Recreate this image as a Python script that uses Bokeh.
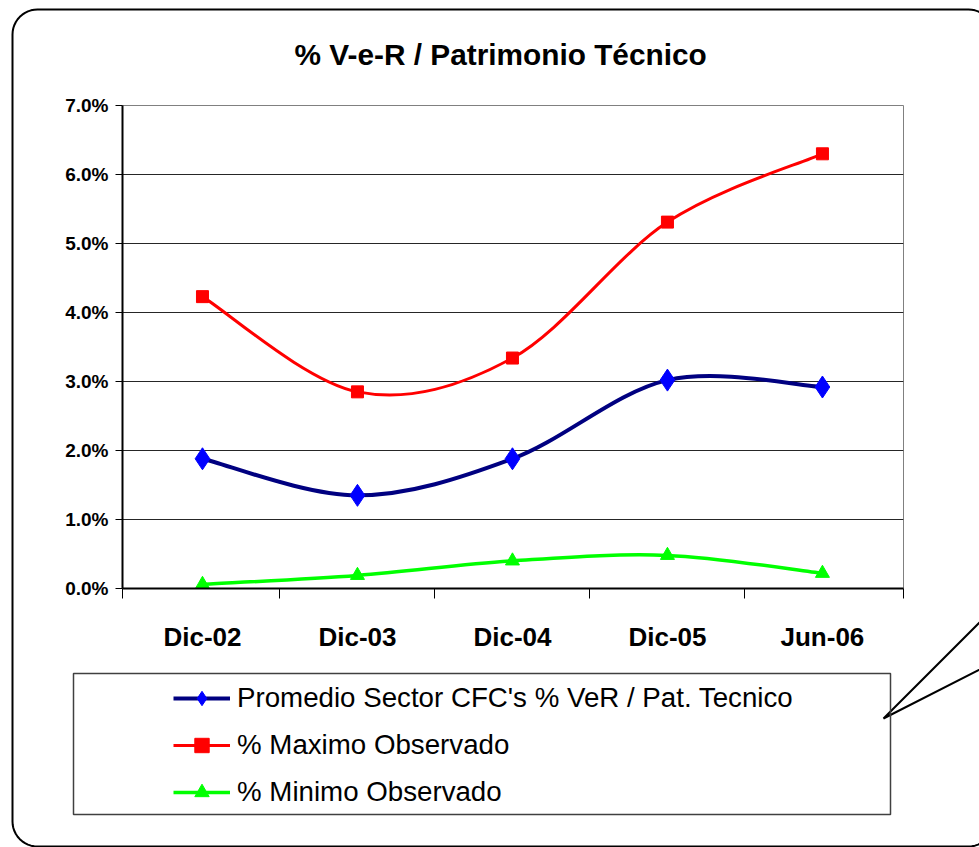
import math
from bokeh.plotting import figure
from bokeh.models import (Range1d, FixedTicker, PrintfTickFormatter, Legend, LegendItem)
from bokeh.embed import file_html
from bokeh.resources import INLINE

# ---------------- data ----------------
categories = ["Dic-02", "Dic-03", "Dic-04", "Dic-05", "Jun-06"]
promedio = [1.88, 1.35, 1.88, 3.02, 2.92]
maximo = [4.23, 2.85, 3.34, 5.31, 6.30]
minimo = [0.06, 0.19, 0.40, 0.48, 0.22]
y_ticks = [0, 1, 2, 3, 4, 5, 6, 7]
series_names = ["Promedio Sector CFC's % VeR / Pat. Tecnico",
                "% Maximo Observado",
                "% Minimo Observado"]
title_text = "% V-e-R / Patrimonio Técnico"

# ---------------- layout ----------------
W, H = 979, 847
FL, FR, FT, FB = 122, 903, 105, 588  # plot frame in page pixels
FONT = "Liberation Sans"
ABS = {"position": "absolute", "left": "0px", "top": "0px"}

xpos = list(range(len(categories)))

series = [
    (promedio, "#000080", 4, "diamond", "#0000FF", 22),
    (maximo, "#FF0000", 3, "square", "#FF0000", 12),
    (minimo, "#00FF00", 3.5, "triangle", "#00FF00", 14),
]

# ======== background figure: callout frame + legend (full page, pixel coordinates) ========
bg = figure(width=W, height=H, output_backend="svg", toolbar_location=None,
            x_range=Range1d(0, W), y_range=Range1d(H, 0),
            x_axis_location=None, y_axis_location=None,
            min_border=0, min_border_left=0, min_border_right=0,
            min_border_top=0, min_border_bottom=0)
bg.styles = dict(ABS)
bg.grid.visible = False
bg.outline_line_color = None
bg.background_fill_color = "white"
bg.border_fill_color = "white"


def arc(cx, cy, r, a0, a1, n=12):
    return [(cx + r * math.cos(a0 + (a1 - a0) * k / n),
             cy + r * math.sin(a0 + (a1 - a0) * k / n)) for k in range(n + 1)]


R = 25
L_, T_, R_, B_ = 12, 9, 993, 846
pts = []
pts += arc(L_ + R, T_ + R, R, math.pi, 1.5 * math.pi)
pts += arc(R_ - R, T_ + R, R, 1.5 * math.pi, 2 * math.pi)
pts += [(R_, 608), (883, 718), (R_, 662)]
pts += arc(R_ - R, B_ - R, R, 0, 0.5 * math.pi)
pts += arc(L_ + R, B_ - R, R, 0.5 * math.pi, math.pi)
pts.append(pts[0])
bg.line([q[0] for q in pts], [q[1] for q in pts], line_color="black", line_width=2)

# legend box
bg.quad(left=[73], right=[890], top=[673], bottom=[814],
        fill_color=None, line_color="#404040", line_width=1.5)

legend_items = []
for (vals, lcol, lw, mk, mcol, ms), name in zip(series, series_names):
    pl = bg.line(xpos, vals, line_color=lcol, line_width=lw)
    pm = bg.scatter(xpos, vals, marker=mk, size=ms, fill_color=mcol, line_color=mcol)
    pl.visible = False
    pm.visible = False
    legend_items.append(LegendItem(label=name, renderers=[pl, pm]))

legend = Legend(items=legend_items, location=(173, H - 810),
                orientation="vertical", border_line_color=None,
                background_fill_alpha=0, padding=0, margin=0, spacing=11,
                glyph_width=57, glyph_height=36, label_height=36, label_standoff=7,
                label_text_font=FONT, label_text_font_size="27.7px",
                label_text_color="black")
bg.add_layout(legend)

# ======== main chart ========
p = figure(width=W, height=H, output_backend="svg", toolbar_location=None,
           x_range=Range1d(-0.516, 4.523), y_range=Range1d(0, 7),
           min_border_left=FL, min_border_right=W - FR,
           min_border_top=FT, min_border_bottom=H - FB)
p.styles = dict(ABS)
p.background_fill_color = "white"
p.border_fill_color = None
p.outline_line_color = "#808080"
p.outline_line_width = 1

# title
p.title.text = title_text
p.title.align = "left"
p.title.offset = 172
p.title.standoff = 70
p.title.text_font = FONT
p.title.text_font_size = "29.8px"
p.title.text_font_style = "bold"
p.title.text_color = "black"

# y axis
p.yaxis.ticker = FixedTicker(ticks=y_ticks)
p.yaxis.formatter = PrintfTickFormatter(format="%.1f%%")
p.yaxis.major_label_text_font = FONT
p.yaxis.major_label_text_font_size = "19px"
p.yaxis.major_label_text_font_style = "bold"
p.yaxis.major_label_text_color = "black"
p.yaxis.major_tick_out = 7
p.yaxis.major_tick_in = 0
p.yaxis.major_tick_line_color = "black"
p.yaxis.minor_tick_line_color = None
p.yaxis.axis_line_color = "black"
p.yaxis.axis_line_width = 2
p.yaxis.major_label_standoff = 7

# x axis
p.xaxis.ticker = FixedTicker(ticks=xpos, minor_ticks=[-0.516, 0.5, 1.5, 2.5, 3.5, 4.523])
p.xaxis.major_label_overrides = {i: c for i, c in zip(xpos, categories)}
p.xaxis.major_label_text_font = FONT
p.xaxis.major_label_text_font_size = "26px"
p.xaxis.major_label_text_font_style = "bold"
p.xaxis.major_label_text_color = "black"
p.xaxis.major_tick_out = 0
p.xaxis.major_tick_in = 0
p.xaxis.major_tick_line_color = None
p.xaxis.minor_tick_out = 10
p.xaxis.minor_tick_in = 0
p.xaxis.minor_tick_line_color = "black"
p.xaxis.minor_tick_line_width = 1
p.xaxis.axis_line_color = "black"
p.xaxis.axis_line_width = 2
p.xaxis.major_label_standoff = 23

p.xgrid.visible = False
p.ygrid.grid_line_color = "black"
p.ygrid.grid_line_width = 1
p.ygrid.grid_line_alpha = 0.85


# smoothed (Excel-like) curves as cubic Bezier segments through the data points
def smooth_segments(xs, ys):
    n = len(xs)
    d = dict(x0=[], y0=[], x1=[], y1=[], cx0=[], cy0=[], cx1=[], cy1=[])
    for i in range(n - 1):
        a = max(i - 1, 0)
        b = min(i + 2, n - 1)
        d["x0"].append(xs[i]); d["y0"].append(ys[i])
        d["x1"].append(xs[i + 1]); d["y1"].append(ys[i + 1])
        d["cx0"].append(xs[i] + (xs[i + 1] - xs[a]) / 6.0)
        d["cy0"].append(ys[i] + (ys[i + 1] - ys[a]) / 6.0)
        d["cx1"].append(xs[i + 1] - (xs[b] - xs[i]) / 6.0)
        d["cy1"].append(ys[i + 1] - (ys[b] - ys[i]) / 6.0)
    return d


for vals, lcol, lw, mk, mcol, ms in series:
    seg = smooth_segments(xpos, vals)
    p.bezier(x0=seg["x0"], y0=seg["y0"], x1=seg["x1"], y1=seg["y1"],
             cx0=seg["cx0"], cy0=seg["cy0"], cx1=seg["cx1"], cy1=seg["cy1"],
             line_color=lcol, line_width=lw)
for vals, lcol, lw, mk, mcol, ms in series:
    p.scatter(xpos, vals, marker=mk, size=ms, fill_color=mcol, line_color=mcol)

open("out.html", "w").write(file_html([bg, p], INLINE))
